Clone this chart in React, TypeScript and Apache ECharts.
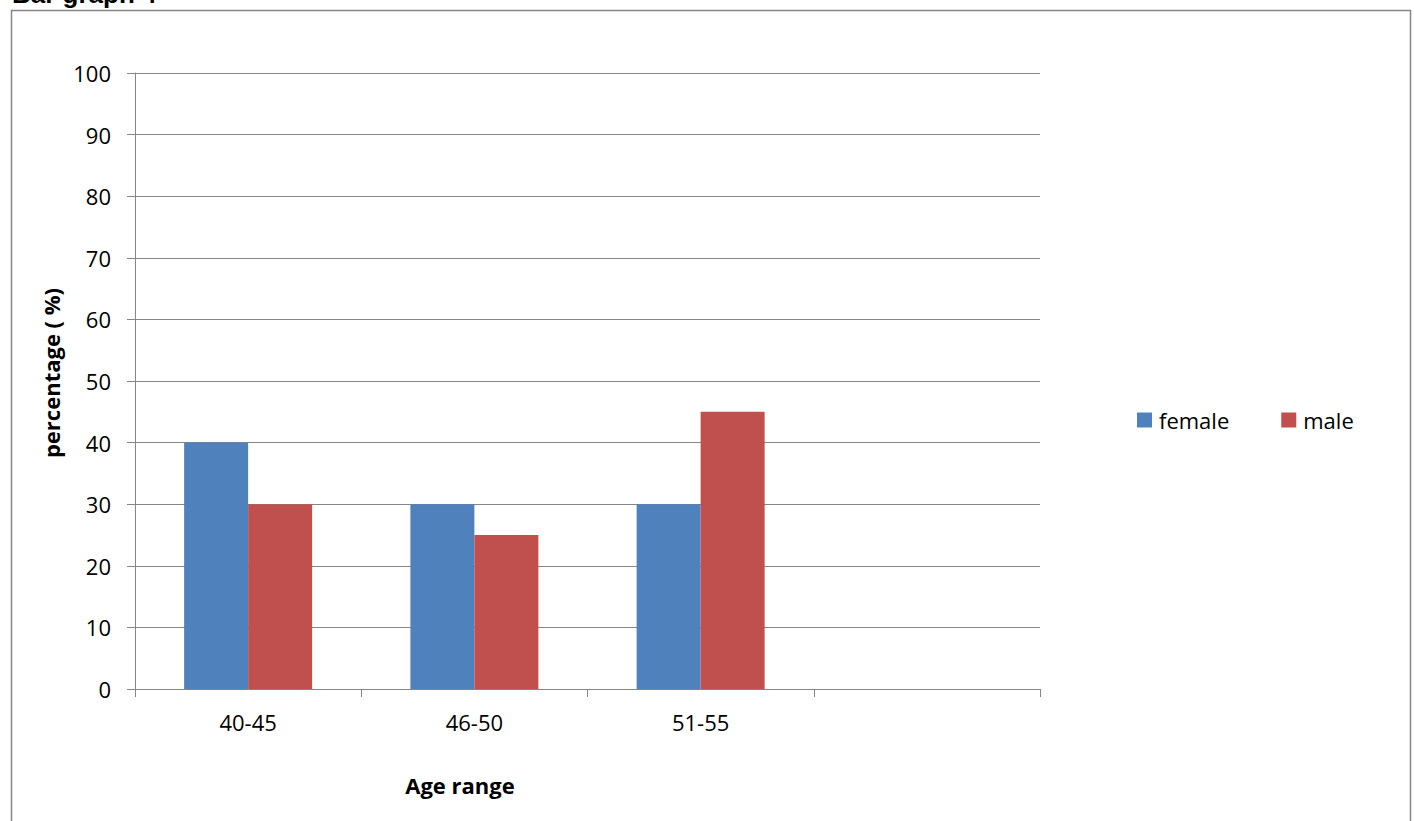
import React, { useEffect, useRef } from "react";
import * as echarts from "echarts";

const categories = ["40-45", "46-50", "51-55", ""];
const female = [40, 30, 30, null];
const male = [30, 25, 45, null];
const seriesNames = ["female", "male"];

export default function App() {
  const ref = useRef<HTMLDivElement>(null);
  useEffect(() => {
    const chart = echarts.init(ref.current!, null, { renderer: "svg" });
    const font = "'Open Sans', sans-serif";
    chart.setOption({
      animation: false,
      textStyle: { fontFamily: font },
      grid: { left: 135, right: 374, top: 73, bottom: 132, containLabel: false },
      legend: {
        left: 1137,
        top: 409,
        padding: 0,
        icon: "rect",
        itemWidth: 15,
        itemHeight: 15,
        itemGap: 52,
        textStyle: { fontSize: 22, color: "#000", fontFamily: font, padding: [0, 0, 0, 2] },
        data: seriesNames,
      },
      xAxis: {
        type: "category",
        data: categories,
        axisLine: { lineStyle: { color: "#868686", width: 1 } },
        axisTick: { show: true, length: 8, interval: 0, lineStyle: { color: "#868686" } },
        axisLabel: { fontSize: 22, color: "#000", margin: 22, fontFamily: font },
      },
      yAxis: {
        type: "value",
        min: 0,
        max: 100,
        interval: 10,
        name: "percentage ( %)",
        nameLocation: "middle",
        nameGap: 68,
        nameTextStyle: {
          fontSize: 22,
          fontWeight: "bold",
          color: "#000",
          fontFamily: font,
          padding: [0, 0, 0, 16],
        },
        axisLine: { show: true, lineStyle: { color: "#868686", width: 1 } },
        axisTick: { show: true, length: 8, lineStyle: { color: "#868686" } },
        axisLabel: { fontSize: 22, color: "#000", margin: 24, fontFamily: font },
        splitLine: { lineStyle: { color: "#868686", width: 1 } },
      },
      graphic: [
        {
          type: "rect",
          shape: { x: 11.5, y: 10.5, width: 1399, height: 820 },
          style: { fill: "none", stroke: "#868686", lineWidth: 1.5 },
        },
        {
          type: "text",
          x: 12,
          y: 7,
          style: {
            text: "Bar graph 4",
            font: "bold 26px 'Liberation Sans', Arial, sans-serif",
            fill: "#000",
            verticalAlign: "bottom",
          },
        },
        {
          type: "text",
          x: 460,
          y: 785,
          style: {
            text: "Age range",
            font: `bold 22px ${font}`,
            fill: "#000",
            align: "center",
            verticalAlign: "middle",
          },
        },
      ],
      series: [
        {
          name: seriesNames[0],
          type: "bar",
          data: female,
          barWidth: 64,
          barGap: "0%",
          itemStyle: { color: "#4F81BD" },
        },
        {
          name: seriesNames[1],
          type: "bar",
          data: male,
          barWidth: 64,
          barGap: "0%",
          itemStyle: { color: "#C0504D" },
        },
      ],
    });
    return () => chart.dispose();
  }, []);
  return (
    <div
      ref={ref}
      style={{ position: "fixed", left: 0, top: 0, width: 1414, height: 821, background: "#fff" }}
    />
  );
}
